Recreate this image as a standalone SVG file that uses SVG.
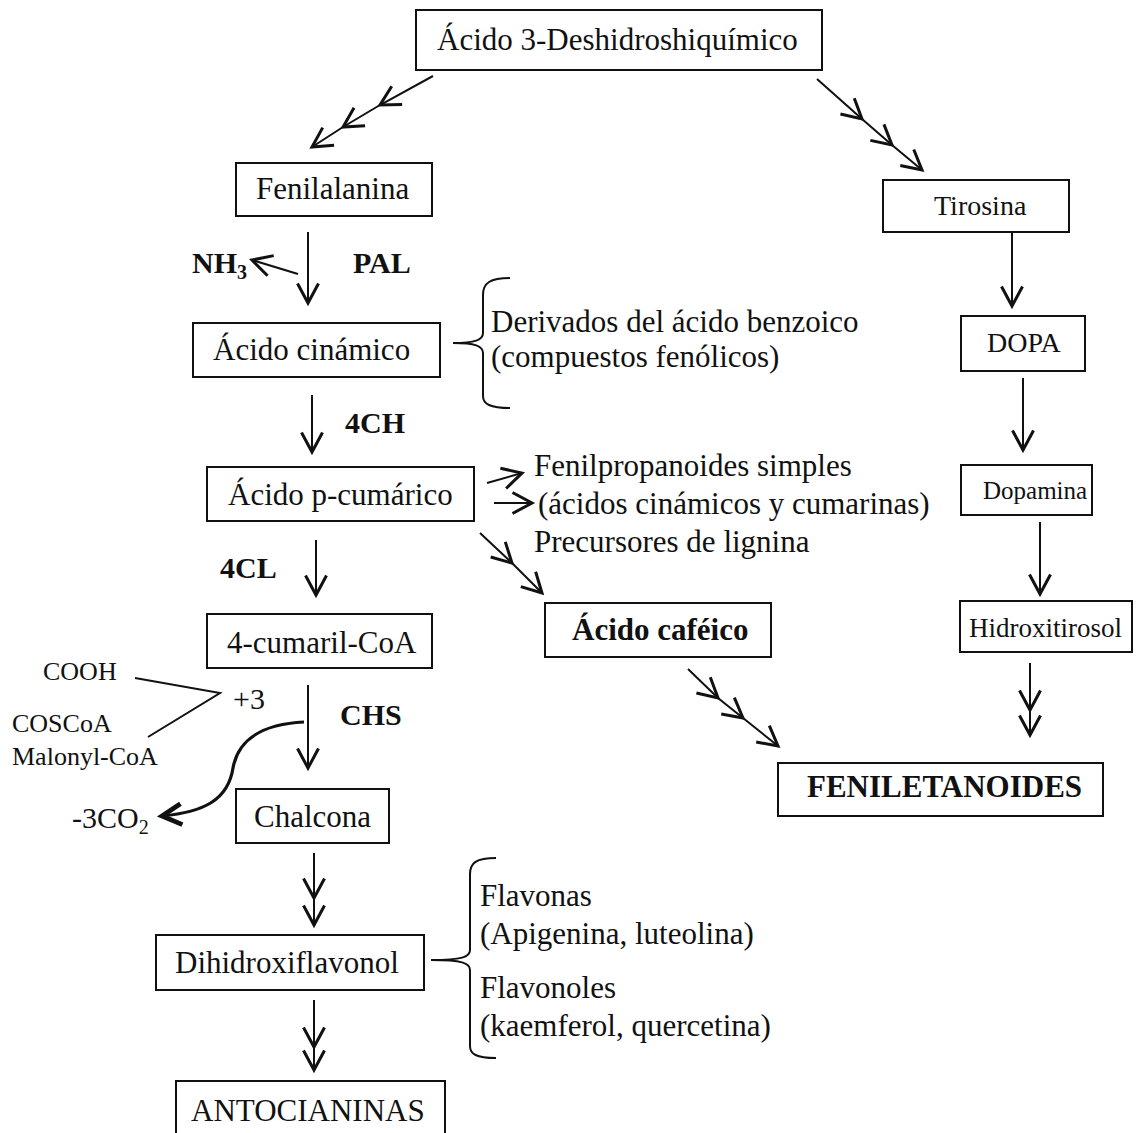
<svg xmlns="http://www.w3.org/2000/svg" width="1148" height="1133" viewBox="0 0 1148 1133">
<style>
text{font-family:"Liberation Serif","Times New Roman",serif;fill:#111;font-size:31px}
text.s{font-size:28px}
text.xs{font-size:26px}
text.f27{font-size:27px}
text.f25{font-size:25px}
text.f30{font-size:30px}
text.bl{font-size:30px;font-weight:bold}
text.b{font-weight:bold}
tspan.sub{font-size:20px}
.box{fill:#fff;stroke:#111;stroke-width:2}
.ln{fill:none;stroke:#111;stroke-width:2}
.ar{fill:none;stroke:#111;stroke-width:2;marker-end:url(#h)}
.am{fill:none;stroke:#111;stroke-width:2;marker-end:url(#h);marker-mid:url(#h)}
</style>
<defs>
<marker id="h" markerUnits="userSpaceOnUse" markerWidth="30" markerHeight="30" viewBox="-16 -10 20 20" refX="0" refY="0" orient="auto">
<path d="M-13,-7 L0,0 L-13,7" fill="none" stroke="#111" stroke-width="2"/>
</marker>
<marker id="hb" markerUnits="userSpaceOnUse" markerWidth="30" markerHeight="30" viewBox="-16 -10 20 20" refX="0" refY="0" orient="auto">
<path d="M-13,-7 L0,0 L-13,7" fill="none" stroke="#111" stroke-width="3.2"/>
</marker>
</defs>
<rect width="1148" height="1133" fill="#fff"/>
<g id="connectors">
<polyline class="am" points="433,76 380,105 343,127 312,147"/>
<polyline class="am" points="817,79 862,119 892,145 922,170"/>
<line class="ar" x1="308" y1="232" x2="308" y2="303"/>
<line class="ar" x1="298" y1="274" x2="252" y2="260"/>
<line class="ar" x1="312" y1="395" x2="312" y2="452"/>
<line class="ar" x1="316" y1="540" x2="316" y2="595"/>
<line class="ar" x1="308" y1="685" x2="308" y2="768"/>
<polyline class="am" points="314,853 314,898 314,925"/>
<polyline class="am" points="314,1000 314,1047 314,1070"/>
<line class="ar" x1="1012" y1="232" x2="1012" y2="306"/>
<line class="ar" x1="1023" y1="378" x2="1023" y2="450"/>
<line class="ar" x1="1040" y1="522" x2="1040" y2="594"/>
<polyline class="am" points="1030,663 1030,710 1030,735"/>
<polyline class="am" points="688,669 718,698 743,718 778,746"/>
<line class="ar" x1="487" y1="483" x2="522" y2="473"/>
<line class="ar" x1="494" y1="503" x2="532" y2="503"/>
<polyline class="am" points="480,533 512,563 542,593"/>
<polyline class="ln" points="135,678 220,693 148,737"/>
<path d="M304,722 C262,724 238,740 233,768 C228,800 204,812 162,816" fill="none" stroke="#111" stroke-width="3.2" marker-end="url(#hb)"/>
<path class="ln" d="M510,278 C490,278 483,283 483,295 L483,333 C483,340 475,343 453,343 C475,343 483,346 483,353 L483,396 C483,404 490,408 510,408"/>
<path class="ln" d="M496,858 C476,858 470,863 470,874 L470,950 C470,957 462,960 431,960 C462,960 470,963 470,970 L470,1046 C470,1054 476,1058 496,1058"/>
</g>
<g id="n-deshidro"><rect class="box" x="416" y="10" width="406" height="60"/><text x="437" y="50">Ácido 3-Deshidroshiquímico</text></g>
<g id="n-fenilalanina"><rect class="box" x="236" y="163" width="196" height="53"/><text x="256" y="199">Fenilalanina</text></g>
<g id="n-tirosina"><rect class="box" x="883" y="180" width="186" height="52"/><text class="s" x="934" y="215">Tirosina</text></g>
<g id="l-nh3"><text class="bl" x="192" y="273">NH<tspan class="sub" dy="6">3</tspan></text></g>
<g id="l-pal"><text class="bl" x="353" y="273">PAL</text></g>
<g id="n-cinamico"><rect class="box" x="193" y="323" width="247" height="54"/><text x="213" y="360">Ácido cinámico</text></g>
<g id="l-derivados"><text x="491" y="332">Derivados del ácido benzoico</text><text x="491" y="367">(compuestos fenólicos)</text></g>
<g id="n-dopa"><rect class="box" x="961" y="316" width="124" height="55"/><text class="s" x="987" y="352">DOPA</text></g>
<g id="l-4ch"><text class="bl" x="345" y="433">4CH</text></g>
<g id="n-cumarico"><rect class="box" x="207" y="467" width="267" height="54"/><text x="228" y="505">Ácido p-cumárico</text></g>
<g id="l-fenilprop"><text x="534" y="476">Fenilpropanoides simples</text><text x="538" y="514">(ácidos cinámicos y cumarinas)</text><text x="534" y="552">Precursores de lignina</text></g>
<g id="n-dopamina"><rect class="box" x="961" y="465" width="131" height="50"/><text class="f25" x="983" y="499">Dopamina</text></g>
<g id="l-4cl"><text class="bl" x="220" y="578">4CL</text></g>
<g id="n-cumarilcoa"><rect class="box" x="207" y="614" width="225" height="54"/><text x="227" y="653">4-cumaril-CoA</text></g>
<g id="n-cafeico"><rect class="box" x="545" y="603" width="226" height="54"/><text class="b" x="572" y="640">Ácido caféico</text></g>
<g id="n-hidroxitirosol"><rect class="box" x="960" y="601" width="172" height="51"/><text class="f27" x="969" y="637">Hidroxitirosol</text></g>
<g id="l-malonyl"><text class="xs" x="43" y="680">COOH</text><text class="f30" x="233" y="709">+3</text><text class="xs" x="12" y="732">COSCoA</text><text class="xs" x="12" y="765">Malonyl-CoA</text></g>
<g id="l-chs"><text class="bl" x="340" y="725">CHS</text></g>
<g id="l-co2"><text class="f30" x="72" y="828">-3CO<tspan class="sub" dy="6">2</tspan></text></g>
<g id="n-chalcona"><rect class="box" x="236" y="789" width="153" height="54"/><text x="254" y="827">Chalcona</text></g>
<g id="n-feniletanoides"><rect class="box" x="778" y="763" width="325" height="53"/><text class="b" x="807" y="797">FENILETANOIDES</text></g>
<g id="l-flavonas"><text x="480" y="906">Flavonas</text><text x="480" y="944">(Apigenina, luteolina)</text><text x="480" y="998">Flavonoles</text><text x="480" y="1036">(kaemferol, quercetina)</text></g>
<g id="n-dihidroxi"><rect class="box" x="156" y="935" width="268" height="55"/><text x="175" y="973">Dihidroxiflavonol</text></g>
<g id="n-antocianinas"><rect class="box" x="176" y="1081" width="269" height="60"/><text x="191" y="1121">ANTOCIANINAS</text></g>
</svg>
